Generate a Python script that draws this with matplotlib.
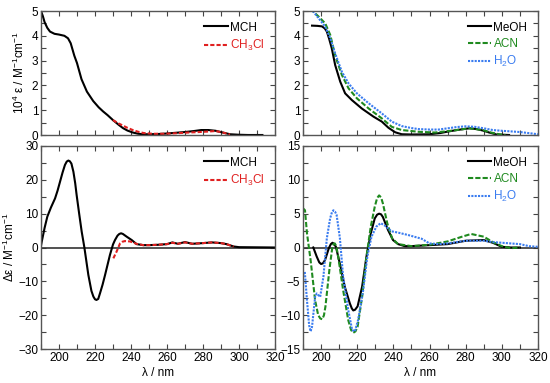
import numpy as np
import matplotlib.pyplot as plt
from matplotlib.ticker import MultipleLocator

plt.rcParams['font.family'] = ['Liberation Sans', 'DejaVu Sans']
plt.rcParams['mathtext.fontset'] = 'custom'
plt.rcParams['mathtext.rm'] = 'Liberation Sans'
plt.rcParams['font.size'] = 8.5

# --- absorption, non-polar solvents (top left) ---
abs_mch_x = [190, 191, 192, 193.5, 195, 197.5, 200, 203, 205, 206.5, 207.5, 208.5, 210, 212.5,
             215.5, 219, 222, 224.5, 227, 230, 233, 235.5, 238, 241, 244, 247, 250, 255, 260,
             265, 270, 275, 279, 283, 287, 291, 295, 300, 305, 313]
abs_mch_y = [5.0, 4.8, 4.55, 4.32, 4.17, 4.08, 4.05, 4.0, 3.9, 3.7, 3.45, 3.2, 2.9, 2.25,
             1.75, 1.37, 1.12, 0.95, 0.8, 0.6, 0.42, 0.28, 0.18, 0.1, 0.05, 0.03, 0.03, 0.04,
             0.06, 0.09, 0.12, 0.16, 0.2, 0.2, 0.17, 0.1, 0.03, 0.01, 0.0, 0.0]
abs_chcl_x = [230, 233, 235.5, 238, 241, 244, 247, 252, 258, 265, 272, 278, 283, 287, 291, 295]
abs_chcl_y = [0.6, 0.47, 0.38, 0.29, 0.2, 0.13, 0.08, 0.05, 0.05, 0.07, 0.1, 0.12, 0.14, 0.16, 0.1, 0.02]

# --- absorption, polar solvents (top right) ---
abs_meoh_x = [195, 198, 200.5, 202, 203.2, 204.5, 205.9, 207.8, 210.6, 213.3, 217, 222.5, 229,
              233.6, 237.3, 241, 244.6, 250, 260, 266, 271, 276, 282, 286, 289.5, 293, 297, 304]
abs_meoh_y = [4.41, 4.4, 4.38, 4.3, 4.17, 3.87, 3.5, 2.82, 2.15, 1.68, 1.41, 1.07, 0.74,
              0.54, 0.29, 0.11, 0.03, 0.02, 0.03, 0.08, 0.15, 0.21, 0.27, 0.24, 0.18, 0.1, 0.02, 0.0]
abs_acn_x = [194, 196.8, 198.7, 202.3, 205.1, 207.8, 211.5, 215.2, 219.8, 226.3, 233.6, 239.1,
             244.6, 253.8, 263, 273, 282, 289.5, 294, 298.5, 302]
abs_acn_y = [5.1, 4.9, 4.77, 4.5, 4.03, 3.2, 2.42, 1.88, 1.48, 1.07, 0.67, 0.33,
             0.2, 0.13, 0.1, 0.18, 0.27, 0.2, 0.1, 0.03, 0.0]
abs_h2o_x = [193, 195, 198.7, 202.3, 205.1, 207.8, 211.5, 215.2, 219.8, 226.3, 233.6, 239.1,
             244.6, 250, 253.8, 260, 265, 270, 275, 280, 285, 290, 295, 300, 310, 320]
abs_h2o_y = [5.2, 5.04, 4.7, 4.37, 3.9, 3.29, 2.55, 2.08, 1.68, 1.28, 0.87, 0.54,
             0.36, 0.28, 0.24, 0.22, 0.22, 0.27, 0.32, 0.35, 0.33, 0.27, 0.2, 0.17, 0.12, 0.03]

# --- CD, non-polar solvents (bottom left) ---
cd_mch_x = [190, 190.4, 192, 193.5, 195.5, 197.8, 199.2, 200.6, 202, 203.3, 204.3, 205.2, 206,
            206.9, 208, 209, 209.8, 211.2, 212.6, 214.1, 216.3, 218, 219.1, 220, 220.8, 221.8,
            222.8, 224.2, 225.6, 228.3, 230, 231.1, 232.5, 233.5, 234.5, 235.5, 237.6, 240.4,
            243.1, 246.8, 250, 255, 260, 263, 266, 270, 274, 280, 285, 290, 293, 297, 300, 310, 320]
cd_mch_y = [0.5, 1.7, 5.8, 9.1, 11.8, 14.5, 16.8, 19.5, 22.2, 24.4, 25.4, 25.7, 25.5,
            24.8, 22.4, 19.0, 15.5, 10.0, 4.7, 0.0, -8.1, -12.8, -14.5, -15.3, -15.5, -15.2,
            -13.5, -11.0, -8.1, -2.2, 0.9, 2.2, 3.5, 4.0, 4.2, 4.0, 3.2, 2.2,
            1.0, 0.7, 0.7, 0.8, 1.0, 1.5, 1.1, 1.6, 1.1, 1.3, 1.5, 1.3, 1.0, 0.3, 0.1, 0.05, 0.0]
cd_chcl_x = [230.2, 232, 233.9, 235.2, 236.6, 239.4, 243, 246.8, 250, 255, 260, 263, 266, 270,
             274, 280, 285, 290, 293, 297]
cd_chcl_y = [-3.2, -1.2, 1.2, 1.7, 1.9, 1.8, 1.1, 0.7, 0.7, 0.8, 1.0, 1.4, 1.1, 1.5,
             1.1, 1.3, 1.5, 1.3, 1.0, 0.3]

# --- CD, polar solvents (bottom right) ---
cd_meoh_x = [195.7, 197.6, 199, 200, 201, 202.2, 204.3, 205.4, 206.3, 207.2, 208.2, 210.4,
             213.1, 215.9, 217, 217.8, 218.8, 220.2, 222.7, 225.1, 227.5, 229.7, 231, 232.1,
             233.2, 234.2, 237, 239.8, 242.6, 246.3, 250, 260, 270, 280, 290, 295, 300, 305, 310]
cd_meoh_y = [0.0, -1.35, -2.2, -2.44, -2.35, -1.85, -0.1, 0.5, 0.7, 0.55, 0.1, -2.4,
             -5.8, -8.25, -9.0, -9.3, -9.2, -8.7, -5.8, -1.35, 2.1, 4.3, 4.85, 5.0,
             4.9, 4.5, 2.6, 1.1, 0.5, 0.2, 0.2, 0.35, 0.5, 1.0, 1.1, 0.7, 0.1, 0.0, 0.0]
cd_acn_x = [190, 191.1, 192.2, 194.2, 196.7, 198.4, 199.6, 200.7, 201.6, 202.4, 204.6, 206.3,
            207, 207.6, 208.4, 209.5, 212.2, 215, 216.6, 217.8, 219, 220.2, 222.7, 225.1,
            227.5, 229.7, 231, 232.1, 233.2, 234.2, 236.6, 239.3, 242.6, 250, 260, 270, 278,
            283, 290, 295, 300, 305, 310]
cd_acn_y = [5.8, 5.5, 2.1, -1.85, -7.8, -10.0, -10.5, -10.6, -10.0, -8.75, -3.3, 0.2,
            0.55, 0.6, 0.2, -1.4, -6.3, -10.7, -12.2, -12.6, -12.4, -11.7, -7.3, -1.35,
            3.1, 6.03, 7.3, 7.7, 7.4, 6.5, 3.6, 1.35, 0.5, 0.2, 0.4, 0.9, 1.6,
            2.0, 1.6, 0.8, 0.2, -0.1, 0.0]
cd_h2o_x = [190, 191, 192.2, 193.4, 194.2, 195, 196.7, 197.6, 199.5, 201.3, 203.2, 205, 206,
            206.8, 207.7, 208.6, 210.4, 212.2, 215, 217.2, 218.7, 220.5, 223.3, 225.6, 227.9,
            230.6, 233, 235.5, 238.8, 242.6, 248.1, 252.8, 255.6, 258.4, 260, 265, 270, 280,
            290, 295, 300, 305, 310, 315, 320]
cd_h2o_y = [-4.0, -3.6, -7.8, -11.5, -12.4, -11.7, -7.3, -6.8, -7.3, -4.3, 1.4, 4.3, 5.2,
            5.5, 5.3, 4.8, 1.4, -4.3, -9.2, -12.2, -12.4, -10.7, -6.3, -1.35, 1.6,
            3.1, 3.6, 3.2, 2.4, 2.2, 1.85, 1.5, 1.3, 0.85, 0.6, 0.5, 0.6, 1.0,
            1.0, 0.8, 0.7, 0.6, 0.5, 0.2, 0.1]

black = 'black'
red = '#e02020'
green = '#1f8a1f'
blue = '#3a7cf0'

fig = plt.figure(figsize=(5.5, 3.83), dpi=100)
W, H = 550, 383


def make_ax(x0, y0, x1, y1):
    return fig.add_axes([x0 / W, 1 - y1 / H, (x1 - x0) / W, (y1 - y0) / H])


ax1 = make_ax(41, 11, 275, 135)
ax2 = make_ax(303, 11, 538, 135)
ax3 = make_ax(41, 146, 275, 349)
ax4 = make_ax(303, 146, 538, 349)

ax1.plot(abs_mch_x, abs_mch_y, color=black, lw=1.5, label='MCH')
ax1.plot(abs_chcl_x, abs_chcl_y, color=red, lw=1.5, ls=(0, (2, 1)), label='CH$_3$Cl')

ax2.plot(abs_meoh_x, abs_meoh_y, color=black, lw=1.5, label='MeOH')
ax2.plot(abs_acn_x, abs_acn_y, color=green, lw=1.5, ls=(0, (2.5, 1)), label='ACN')
ax2.plot(abs_h2o_x, abs_h2o_y, color=blue, lw=1.5, ls=(0, (1, 0.6)), label='H$_2$O')

ax3.axhline(0, color='#333333', lw=1.2)
ax3.plot(cd_mch_x, cd_mch_y, color=black, lw=1.5, label='MCH')
ax3.plot(cd_chcl_x, cd_chcl_y, color=red, lw=1.5, ls=(0, (2, 1)), label='CH$_3$Cl')

ax4.axhline(0, color='#333333', lw=1.2)
ax4.plot(cd_meoh_x, cd_meoh_y, color=black, lw=1.5, label='MeOH')
ax4.plot(cd_acn_x, cd_acn_y, color=green, lw=1.5, ls=(0, (2.5, 1)), label='ACN')
ax4.plot(cd_h2o_x, cd_h2o_y, color=blue, lw=1.5, ls=(0, (1, 0.6)), label='H$_2$O')

for ax in (ax1, ax2):
    ax.set_ylim(0, 5)
    ax.yaxis.set_major_locator(MultipleLocator(1))
    ax.yaxis.set_minor_locator(MultipleLocator(0.5))
    ax.tick_params(labelbottom=False)
ax3.set_ylim(-30, 30)
ax3.yaxis.set_major_locator(MultipleLocator(10))
ax3.yaxis.set_minor_locator(MultipleLocator(5))
ax4.set_ylim(-15, 15)
ax4.yaxis.set_major_locator(MultipleLocator(5))
ax4.yaxis.set_minor_locator(MultipleLocator(2.5))

for ax in (ax1, ax2, ax3, ax4):
    ax.set_xlim(190, 320)
    ax.xaxis.set_major_locator(MultipleLocator(20))
    ax.xaxis.set_minor_locator(MultipleLocator(10))
    ax.tick_params(which='both', direction='in', top=True, right=True,
                   length=3.5, width=0.8, color='#444444', pad=2)
    for s in ax.spines.values():
        s.set_color('#555555')
        s.set_linewidth(1.0)
    leg = ax.legend(loc='upper right', frameon=False, handlelength=2.0,
                    handletextpad=0.2, labelspacing=0.35, borderaxespad=0.5,
                    fontsize=8.5)
    for txt, ln in zip(leg.get_texts(), leg.get_lines()):
        txt.set_color(ln.get_color())

ax1.set_ylabel('10$^4$ ε / M$^{-1}$cm$^{-1}$', labelpad=3)
ax3.set_ylabel('Δε / M$^{-1}$cm$^{-1}$', labelpad=1)
ax3.set_xlabel('λ / nm', labelpad=2)
ax4.set_xlabel('λ / nm', labelpad=2)

fig.savefig('out.png', dpi=100)
